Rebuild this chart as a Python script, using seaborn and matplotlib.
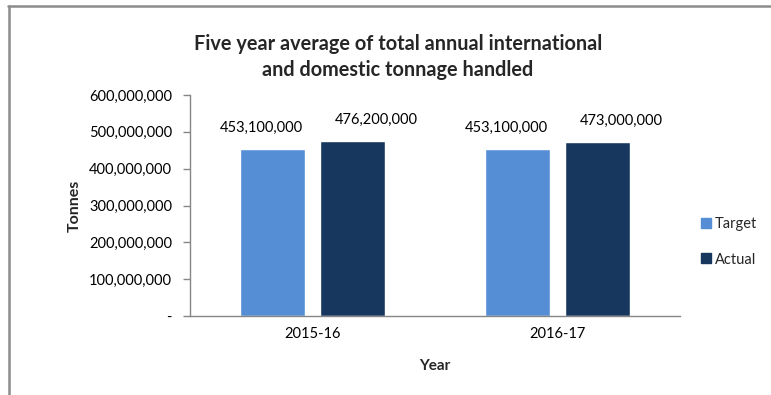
import matplotlib
matplotlib.use("Agg")
import matplotlib.pyplot as plt
import seaborn as sns
import pandas as pd
from matplotlib.lines import Line2D
from matplotlib.ticker import FuncFormatter

years = ["2015-16", "2016-17"]
series = ["Target", "Actual"]
target = [453100000, 453100000]
actual = [476200000, 473000000]
yticks = [0, 100000000, 200000000, 300000000, 400000000, 500000000, 600000000]

df = pd.DataFrame({
    "Year": years * 2,
    "Series": [series[0]] * 2 + [series[1]] * 2,
    "Tonnes": target + actual,
})

sns.set_theme(style="white")
plt.rcParams["font.family"] = ["Lato", "DejaVu Sans"]

fig = plt.figure(figsize=(7.71, 3.95), dpi=100)
ax = fig.add_axes([190 / 771, 1 - 316 / 395, 490 / 771, 221 / 395])

palette = {"Target": "#558ED5", "Actual": "#17375E"}
sns.barplot(data=df, x="Year", y="Tonnes", hue="Series", hue_order=series,
            palette=palette, width=0.653, gap=0.1875, ax=ax, legend=False,
            saturation=1)

# data labels (Excel places them slightly outward from the bar centres)
label_dx = {"Target": -8, "Actual": 17}
for cont, s in zip(ax.containers, series):
    for rect, v in zip(cont, cont.datavalues):
        ax.annotate(f"{v:,.0f}", (rect.get_x() + rect.get_width() / 2, v),
                    xytext=(label_dx[s], 15), textcoords="offset points",
                    ha="center", va="center", fontsize=10.5, color="#000000")

ax.set_xlim(-0.5, 1.5)
ax.set_ylim(0, 600000000)
ax.set_yticks(yticks)
ax.yaxis.set_major_formatter(FuncFormatter(lambda v, p: "-" if v == 0 else f"{v:,.0f}"))
ax.tick_params(axis="y", which="major", length=5, width=1, color="#868686",
               labelsize=10.5, labelcolor="#000000", left=True, pad=8)
ax.tick_params(axis="x", length=0, labelsize=10.5, labelcolor="#000000", pad=8)

for s in ["top", "right"]:
    ax.spines[s].set_visible(False)
for s in ["left", "bottom"]:
    ax.spines[s].set_color("#868686")
    ax.spines[s].set_linewidth(1)

ax.set_xlabel("Year", fontsize=11, fontweight="bold", labelpad=13)
ax.set_ylabel("Tonnes", fontsize=11.5, fontweight="bold", labelpad=5)

fig.text(398 / 771, 1 - 57 / 395,
         "Five year average of total annual international\nand domestic tonnage handled",
         ha="center", va="center", fontsize=14.3, fontweight="bold",
         linespacing=1.35)

handles = [Line2D([0], [0], marker="s", linestyle="none", markersize=7,
                  markerfacecolor=palette[s], markeredgecolor=palette[s])
           for s in series]
fig.legend(handles, series, loc="center left",
           bbox_to_anchor=(686 / 771, 1 - 242 / 395), frameon=False,
           fontsize=10.5, handletextpad=0.1, labelspacing=1.45,
           handlelength=1.0)

fig.add_artist(Line2D([9 / 771, 9 / 771], [0, 1 - 5.5 / 395],
                      transform=fig.transFigure, color="#8C8C8C", lw=1.8))
fig.add_artist(Line2D([8 / 771, 1], [1 - 6 / 395, 1 - 6 / 395],
                      transform=fig.transFigure, color="#8C8C8C", lw=1.8))

fig.savefig("out.png", dpi=100)
